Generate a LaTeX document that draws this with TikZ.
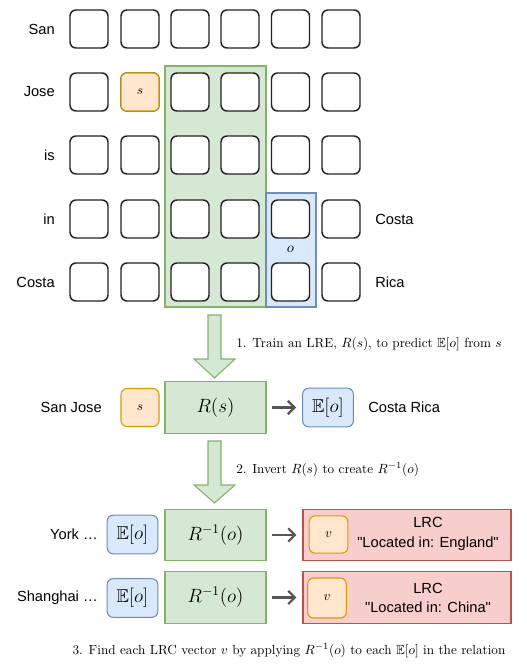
\documentclass[tikz,border=0pt]{standalone}
\usepackage{amssymb}
\usepackage{fontspec}
\newfontfamily\hel{Liberation Sans}
\usetikzlibrary{arrows.meta}
\definecolor{gfill}{HTML}{D5E8D4}
\definecolor{gdraw}{HTML}{82B366}
\definecolor{ofill}{HTML}{FFE6CC}
\definecolor{odraw}{HTML}{D79B00}
\definecolor{bfill}{HTML}{DAE8FC}
\definecolor{bdraw}{HTML}{6C8EBF}
\definecolor{rfill}{HTML}{F8CECC}
\definecolor{rdraw}{HTML}{B85450}
\definecolor{cellc}{HTML}{222222}
\definecolor{arrc}{HTML}{555555}
\begin{document}
\begin{tikzpicture}[x=0.75pt,y=-0.75pt,
  cell/.style={draw=cellc, line width=1.1pt, rounded corners=4.5pt, fill=white,
    minimum width=28.5pt, minimum height=28.5pt, inner sep=0pt},
  obox/.style={cell, draw=odraw, fill=ofill, line width=0.8pt},
  bbox/.style={draw=bdraw, fill=bfill, line width=0.8pt, rounded corners=4.5pt,
    minimum width=38pt, minimum height=29pt, inner sep=0pt},
  gbox/.style={draw=gdraw, fill=gfill, line width=0.8pt, minimum width=75.75pt,
    minimum height=38.5pt, inner sep=0pt},
  rbox/.style={draw=rdraw, fill=rfill, line width=0.8pt, minimum width=156pt,
    minimum height=38.5pt, inner sep=0pt},
  word/.style={font=\hel\fontsize{11}{12.5}\selectfont, inner sep=0pt},
  captxt/.style={font=\fontsize{9.9}{11}\selectfont, inner sep=0pt},
  bigmath/.style={font=\fontsize{14}{16}\selectfont},
  flow/.style={draw=arrc, line width=1.7pt, shorten <=3.75pt, shorten >=4.5pt,
    -{Straight Barb[length=5pt,width=10pt]}},
  big/.style={draw=gdraw, fill=gfill, line width=0.8pt, line join=miter}
]
\useasboundingbox (0,0) rectangle (527,666);

% background regions
\node[draw=gdraw, fill=gfill, line width=0.8pt, minimum width=75.75pt, minimum height=180.75pt, inner sep=0pt] (green) at (215.5,186.5) {};
\node[draw=bdraw, fill=bfill, line width=0.8pt, minimum width=37.5pt, minimum height=85.5pt, inner sep=0pt] (blue) at (291,250) {};
\node[inner sep=0pt, font=\fontsize{11}{12}\selectfont] (olab) at (290.5,249) {$o$};

% grid
\foreach \r/\y in {1/29,2/92,3/155,4/219,5/282}{
  \foreach \c/\x in {1/89,2/140,3/190,4/240,5/290.5,6/341}{
    \node[cell] (c\r\c) at (\x,\y) {};
  }
}
\node[obox] (sgrid) at (140,92) {$s$};

% row labels
\node[word, anchor=east] (wSan) at (55,29) {San};
\node[word, anchor=east] (wJose) at (55,92) {Jose};
\node[word, anchor=east] (wis) at (55,155) {is};
\node[word, anchor=east] (win) at (55,219) {in};
\node[word, anchor=east] (wCosta) at (55,282) {Costa};
\node[word, anchor=west] (rCosta) at (375,219) {Costa};
\node[word, anchor=west] (rRica) at (375,282) {Rica};

% big arrow 1
\draw[big] (208,315) -- (221,315) -- (221,359) -- (235,359) -- (214.5,378) -- (194,359) -- (208,359) -- cycle;
\node[captxt, anchor=west] (t1) at (236,344) {1. Train an LRE, $R(s)$, to predict $\mathbb{E}[o]$ from $s$};

% middle row
\node[word, anchor=east] (sanjose) at (102,407) {San Jose};
\node[obox] (s1) at (140,407.5) {$s$};
\node[gbox, bigmath] (R1) at (215.5,407.5) {$R(s)$};
\node[bbox, bigmath] (E1) at (328,407.5) {$\mathbb{E}[o]$};
\node[word, anchor=west] (costarica) at (368,407) {Costa Rica};
\draw[flow] (R1) -- (E1);

% big arrow 2
\draw[big] (208,441) -- (221,441) -- (221,485) -- (235,485) -- (214.5,503) -- (194,485) -- (208,485) -- cycle;
\node[captxt, anchor=west] (t2) at (236,470) {2. Invert $R(s)$ to create $R^{-1}(o)$};

% bottom rows
\node[word, anchor=east] (york) at (98,534.5) {York \dots};
\node[bbox, bigmath] (E2) at (132.5,534.5) {$\mathbb{E}[o]$};
\node[gbox, bigmath] (R2) at (215.5,535) {$R^{-1}(o)$};
\node[rbox] (L2) at (407,535) {};
\node[obox, minimum width=29pt, minimum height=28pt] (v2) at (328.5,534.5) {$v$};
\node[word, align=center] (lrc2) at (428,534) {LRC\\[2pt]"Located in: England"};
\draw[flow] (R2) -- (L2);

\node[word, anchor=east] (shanghai) at (98,598) {Shanghai \dots};
\node[bbox, bigmath] (E3) at (132.5,598) {$\mathbb{E}[o]$};
\node[gbox, bigmath] (R3) at (215.5,597.5) {$R^{-1}(o)$};
\node[rbox] (L3) at (407,597.5) {};
\node[obox, minimum width=29pt, minimum height=30pt] (v3) at (327,598) {$v$};
\node[word, align=center] (lrc3) at (428,598) {LRC\\[2pt]"Located in: China"};
\draw[flow] (R3) -- (L3);

\node[captxt] (t3) at (289,651) {3. Find each LRC vector $v$ by applying $R^{-1}(o)$ to each $\mathbb{E}[o]$ in the relation};
\end{tikzpicture}
\end{document}
